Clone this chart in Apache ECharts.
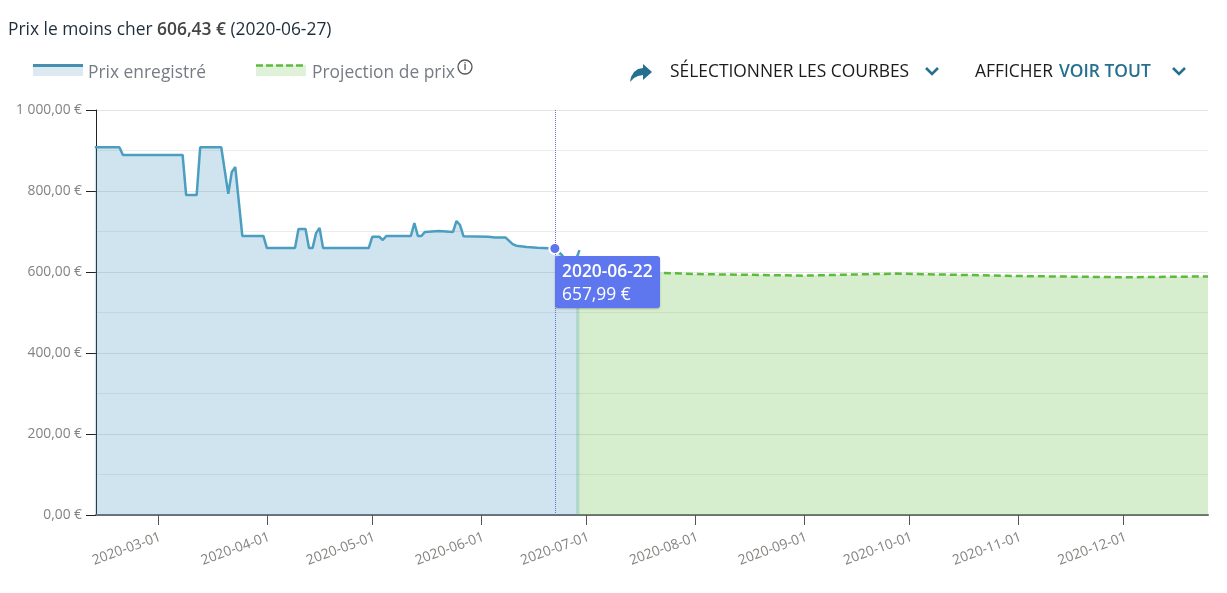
<!DOCTYPE html>
<html>
<head>
<meta charset="utf-8">
<title>Prix</title>
<script src="https://cdn.jsdelivr.net/npm/echarts@6/dist/echarts.min.js"></script>
<style>
html, body { margin: 0; padding: 0; background: #fff; }
#main { width: 1227px; height: 593px; }
</style>
</head>
<body>
<div id="main"></div>
<script>
// prix enregistré
const priceDates = ['2020-02-12','2020-02-19','2020-02-20','2020-03-08','2020-03-09','2020-03-12','2020-03-13','2020-03-19','2020-03-21','2020-03-22','2020-03-23','2020-03-25','2020-03-31','2020-04-01','2020-04-09','2020-04-10','2020-04-12','2020-04-13','2020-04-14','2020-04-15','2020-04-16','2020-04-17','2020-04-30','2020-05-01','2020-05-03','2020-05-04','2020-05-05','2020-05-12','2020-05-13','2020-05-14','2020-05-15','2020-05-16','2020-05-20','2020-05-24','2020-05-25','2020-05-26','2020-05-27','2020-06-03','2020-06-05','2020-06-08','2020-06-10','2020-06-11','2020-06-14','2020-06-17','2020-06-22','2020-06-24','2020-06-27','2020-06-29'];
const priceValues = [908,908,889,889,790,790,908,908,793,847,859,689,689,659,659,706,706,659,659,696,709,659,659,687,687,679,689,689,721,689,689,699,701,699,726,716,688,687,685,685,669,665,662,660,657.99,642,606.43,654];
// projection de prix
const projDates = ['2020-06-28','2020-07-15','2020-08-01','2020-09-01','2020-09-27','2020-10-15','2020-11-01','2020-12-01','2020-12-25'];
const projValues = [600,600,595,591,596,593,590,587,589];
const xTicks = ['2020-03-01','2020-04-01','2020-05-01','2020-06-01','2020-07-01','2020-08-01','2020-09-01','2020-10-01','2020-11-01','2020-12-01'];
const yLabels = ['0,00 €','200,00 €','400,00 €','600,00 €','800,00 €','1 000,00 €'];
const tipIndex = priceDates.indexOf('2020-06-22');

const FONT = '"Open Sans", sans-serif';
const BLUE = '#4590ae';
const GREEN = '#5dbb3c';
const TIP = '#5e76ee';

const myChart = echarts.init(document.getElementById('main'));

const ts = d => Date.parse(d + 'T00:00:00Z');
const pairs = (a, b) => a.map((d, i) => [ts(d), b[i]]);
const euro = v => v.toFixed(2).replace('.', ',') + ' €';
const xTickValues = xTicks.map(ts);

const option = {
  animation: false,
  grid: { left: 96, right: 19, top: 110, bottom: 78 },
  tooltip: {
    trigger: 'axis',
    alwaysShowContent: true,
    backgroundColor: TIP,
    borderWidth: 0,
    padding: [3, 7],
    extraCssText: 'border-radius:3px;box-shadow:0 1px 2px rgba(0,0,0,.25);line-height:23px;',
    textStyle: { color: '#fff', fontFamily: FONT, fontSize: 17.4 },
    position: [555, 256],
    formatter: () => '<b style="font-weight:600">' + priceDates[tipIndex] + '</b><br>' + euro(priceValues[tipIndex]),
    axisPointer: {
      type: 'line',
      label: { show: false },
      lineStyle: { color: '#6a70d8', type: 'dotted', width: 1 }
    }
  },
  xAxis: {
    type: 'value',
    min: ts('2020-02-12') + 8 * 3600000,
    max: ts('2020-12-25'),
    axisPointer: { lineStyle: { color: '#6a70d8', type: 'dotted', width: 1 } },
    axisLine: { lineStyle: { color: '#6b6f72', width: 2 } },
    axisTick: { customValues: xTickValues, length: 10, lineStyle: { color: '#555', width: 1 } },
    axisLabel: {
      customValues: xTickValues,
      formatter: v => new Date(v).toISOString().slice(0, 10),
      rotate: 20,
      margin: 15,
      verticalAlign: 'top',
      color: '#85827f',
      fontFamily: FONT,
      fontSize: 13.8
    },
    splitLine: { show: false }
  },
  yAxis: {
    type: 'value',
    min: 0,
    max: 1000,
    interval: 200,
    minorTick: { show: false, splitNumber: 2 },
    minorSplitLine: { show: true, lineStyle: { color: '#ececec', width: 1 } },
    splitLine: { lineStyle: { color: '#e4e4e4', width: 1 } },
    axisLine: { show: true, lineStyle: { color: '#222', width: 1 } },
    axisTick: { show: true, length: 10, lineStyle: { color: '#222' } },
    axisLabel: {
      formatter: v => yLabels[v / 200],
      margin: 14,
      color: '#85827f',
      fontFamily: FONT,
      fontSize: 13.8
    }
  },
  series: [
    {
      name: 'Projection de prix',
      type: 'line',
      data: pairs(projDates, projValues),
      showSymbol: false,
      tooltip: { show: false },
      lineStyle: { color: GREEN, width: 2.5, type: [7, 4] },
      itemStyle: { color: GREEN },
      areaStyle: { color: '#6cc24a', opacity: 0.27 },
      emphasis: { disabled: true }
    },
    {
      name: 'Prix enregistré',
      type: 'line',
      data: pairs(priceDates, priceValues),
      symbol: 'circle',
      symbolSize: 11,
      showSymbol: false,
      lineStyle: { color: BLUE, width: 2.5 },
      itemStyle: { color: TIP },
      areaStyle: { color: '#3f86ad', opacity: 0.25 },
      emphasis: {
        scale: 1,
        lineStyle: { width: 2.5 },
        itemStyle: { color: TIP, borderColor: '#fff', borderWidth: 2 }
      }
    }
  ],
  graphic: [
    { type: 'text', left: 8, top: 22, style: {
      text: '{a|Prix le moins cher }{b|606,43 €}{a| (2020-06-27)}',
      rich: {
        a: { fontFamily: FONT, fontSize: 17.4, fill: '#1f2d3a' },
        b: { fontFamily: FONT, fontSize: 17.4, fontWeight: 600, fill: '#454545' }
      }
    } },
    // légende
    { type: 'rect', shape: { x: 33, y: 64, width: 50, height: 12 }, style: { fill: '#dce9f1' } },
    { type: 'rect', shape: { x: 33, y: 64, width: 50, height: 3 }, style: { fill: BLUE } },
    { type: 'text', left: 88, top: 65, style: { text: 'Prix enregistré', fontFamily: FONT, fontSize: 17.4, fill: '#767c84' } },
    { type: 'rect', shape: { x: 256, y: 65, width: 50, height: 11 }, style: { fill: '#dff1d8' } },
    { type: 'line', shape: { x1: 256, y1: 65.5, x2: 306, y2: 65.5 }, style: { stroke: GREEN, lineWidth: 2.5, lineDash: [7, 3] } },
    { type: 'text', left: 312, top: 65, style: { text: 'Projection de prix', fontFamily: FONT, fontSize: 17.4, fill: '#767c84' } },
    { type: 'circle', shape: { cx: 465, cy: 67, r: 7 }, style: { fill: 'none', stroke: '#555', lineWidth: 1.3 } },
    { type: 'text', x: 465, y: 67, style: { text: 'i', fontFamily: FONT, fontSize: 11, fontWeight: 600, fill: '#555', align: 'center', verticalAlign: 'middle' } },
    // boutons
    { type: 'polygon', shape: { points: [[630, 82], [631, 77], [634, 72], [638, 69], [643, 68], [643, 64], [652, 72], [643, 80], [643, 75], [638, 76], [634, 78]] }, style: { fill: '#26708f' } },
    { type: 'text', left: 670, top: 64, style: { text: 'SÉLECTIONNER LES COURBES', fontFamily: FONT, fontSize: 17.4, fill: '#1b1b1b' } },
    { type: 'polyline', shape: { points: [[926, 68], [932, 74], [938, 68]] }, style: { fill: 'none', stroke: '#26708f', lineWidth: 2.6 } },
    { type: 'text', left: 975, top: 64, style: { text: 'AFFICHER', fontFamily: FONT, fontSize: 17.4, fill: '#1b1b1b' } },
    { type: 'text', left: 1059, top: 64, style: { text: 'VOIR TOUT', fontFamily: FONT, fontSize: 17.4, fontWeight: 600, fill: '#26708f' } },
    { type: 'polyline', shape: { points: [[1173, 68], [1179, 74], [1185, 68]] }, style: { fill: 'none', stroke: '#26708f', lineWidth: 2.6 } }
  ]
};

myChart.setOption(option);
myChart.dispatchAction({ type: 'showTip', seriesIndex: 1, dataIndex: tipIndex });
</script>
</body>
</html>
